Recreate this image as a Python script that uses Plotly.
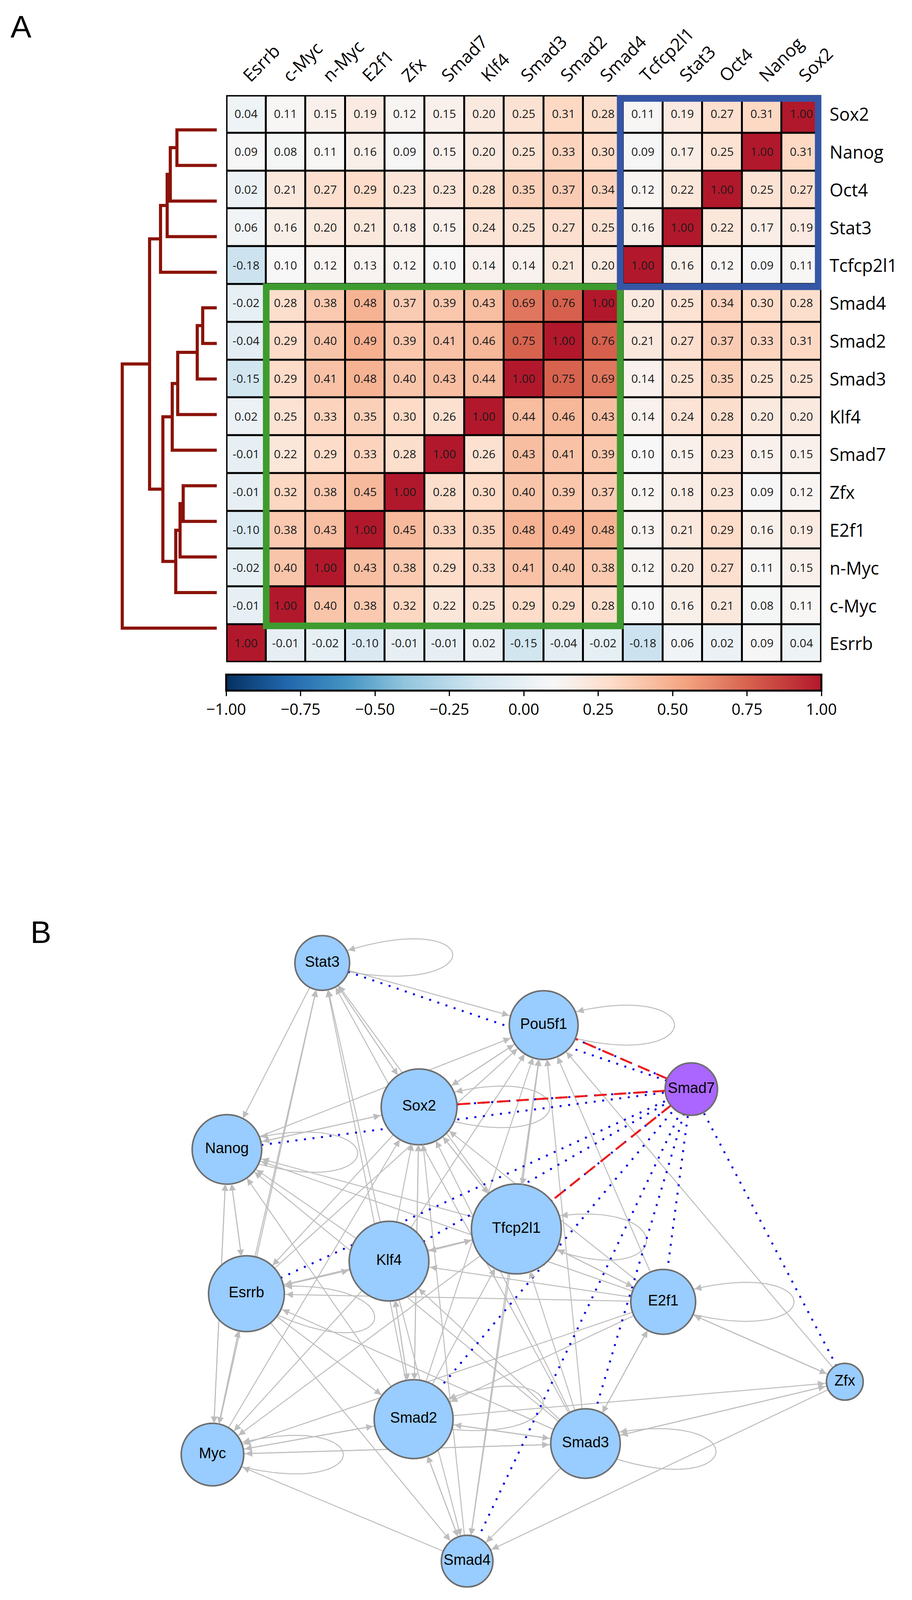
import math
import numpy as np
import plotly.graph_objects as go

W, H = 2335, 4325

# ---------------- Panel A data ----------------
row_labels = ["Sox2", "Nanog", "Oct4", "Stat3", "Tcfcp2l1", "Smad4", "Smad2", "Smad3",
              "Klf4", "Smad7", "Zfx", "E2f1", "n-Myc", "c-Myc", "Esrrb"]
col_labels = ["Esrrb", "c-Myc", "n-Myc", "E2f1", "Zfx", "Smad7", "Klf4", "Smad3",
              "Smad2", "Smad4", "Tcfcp2l1", "Stat3", "Oct4", "Nanog", "Sox2"]
corr = [
    [0.04, 0.11, 0.15, 0.19, 0.12, 0.15, 0.20, 0.25, 0.31, 0.28, 0.11, 0.19, 0.27, 0.31, 1.00],
    [0.09, 0.08, 0.11, 0.16, 0.09, 0.15, 0.20, 0.25, 0.33, 0.30, 0.09, 0.17, 0.25, 1.00, 0.31],
    [0.02, 0.21, 0.27, 0.29, 0.23, 0.23, 0.28, 0.35, 0.37, 0.34, 0.12, 0.22, 1.00, 0.25, 0.27],
    [0.06, 0.16, 0.20, 0.21, 0.18, 0.15, 0.24, 0.25, 0.27, 0.25, 0.16, 1.00, 0.22, 0.17, 0.19],
    [-0.18, 0.10, 0.12, 0.13, 0.12, 0.10, 0.14, 0.14, 0.21, 0.20, 1.00, 0.16, 0.12, 0.09, 0.11],
    [-0.02, 0.28, 0.38, 0.48, 0.37, 0.39, 0.43, 0.69, 0.76, 1.00, 0.20, 0.25, 0.34, 0.30, 0.28],
    [-0.04, 0.29, 0.40, 0.49, 0.39, 0.41, 0.46, 0.75, 1.00, 0.76, 0.21, 0.27, 0.37, 0.33, 0.31],
    [-0.15, 0.29, 0.41, 0.48, 0.40, 0.43, 0.44, 1.00, 0.75, 0.69, 0.14, 0.25, 0.35, 0.25, 0.25],
    [0.02, 0.25, 0.33, 0.35, 0.30, 0.26, 1.00, 0.44, 0.46, 0.43, 0.14, 0.24, 0.28, 0.20, 0.20],
    [-0.01, 0.22, 0.29, 0.33, 0.28, 1.00, 0.26, 0.43, 0.41, 0.39, 0.10, 0.15, 0.23, 0.15, 0.15],
    [-0.01, 0.32, 0.38, 0.45, 1.00, 0.28, 0.30, 0.40, 0.39, 0.37, 0.12, 0.18, 0.23, 0.09, 0.12],
    [-0.10, 0.38, 0.43, 1.00, 0.45, 0.33, 0.35, 0.48, 0.49, 0.48, 0.13, 0.21, 0.29, 0.16, 0.19],
    [-0.02, 0.40, 1.00, 0.43, 0.38, 0.29, 0.33, 0.41, 0.40, 0.38, 0.12, 0.20, 0.27, 0.11, 0.15],
    [-0.01, 1.00, 0.40, 0.38, 0.32, 0.22, 0.25, 0.29, 0.29, 0.28, 0.10, 0.16, 0.21, 0.08, 0.11],
    [1.00, -0.01, -0.02, -0.10, -0.01, -0.01, 0.02, -0.15, -0.04, -0.02, -0.18, 0.06, 0.02, 0.09, 0.04],
]
# dendrogram merges: (child a, child b, distance); ids >= 15 are earlier merges
dendro_merges = [
    (0, 1, 102), (15, 2, 119), (16, 3, 127), (17, 4, 144),
    (5, 6, 36), (19, 7, 50), (20, 8, 100), (21, 9, 114),
    (10, 11, 86), (23, 12, 94), (24, 13, 105),
    (22, 25, 138), (18, 26, 172), (27, 14, 242),
]
cb_ticks = [-1.0, -0.75, -0.5, -0.25, 0.0, 0.25, 0.5, 0.75, 1.0]

# ---------------- Panel B data ----------------
node_names = ["Stat3", "Pou5f1", "Smad7", "Sox2", "Nanog", "Tfcp2l1", "Klf4", "Esrrb",
              "E2f1", "Zfx", "Smad2", "Smad3", "Myc", "Smad4"]
node_x = [825, 1392, 1770, 1073, 581, 1322, 996, 631, 1698, 2163, 1059, 1499, 544, 1196]
node_y = [2603, 2771, 2944, 2992, 3107, 3322, 3409, 3497, 3519, 3735, 3836, 3902, 3932, 4220]
node_r = [70, 88, 67, 97, 89, 115, 102, 97, 83, 47, 101, 89, 80, 66]

grey_edges = [
    ("Stat3", "Nanog"), ("Stat3", "Pou5f1"), ("Stat3", "Sox2"), ("Sox2", "Stat3"), ("Klf4", "Stat3"),
    ("Smad2", "Stat3"), ("Myc", "Stat3"), ("Tfcp2l1", "Stat3"), ("Smad3", "Stat3"), ("Esrrb", "Stat3"),
    ("Sox2", "Nanog"), ("Nanog", "Sox2"), ("Sox2", "Pou5f1"), ("Pou5f1", "Sox2"), ("Sox2", "Tfcp2l1"),
    ("Tfcp2l1", "Sox2"), ("Sox2", "Esrrb"), ("Klf4", "Sox2"), ("Smad2", "Sox2"), ("Smad3", "Sox2"),
    ("E2f1", "Sox2"), ("Smad4", "Sox2"), ("Myc", "Sox2"), ("Sox2", "Smad2"),
    ("Nanog", "Pou5f1"), ("Klf4", "Pou5f1"), ("Tfcp2l1", "Pou5f1"), ("Pou5f1", "Tfcp2l1"),
    ("Smad2", "Pou5f1"), ("Smad3", "Pou5f1"), ("E2f1", "Pou5f1"), ("Esrrb", "Pou5f1"),
    ("Zfx", "Pou5f1"), ("Smad4", "Pou5f1"),
    ("Nanog", "Esrrb"), ("Esrrb", "Nanog"), ("Nanog", "Myc"), ("Klf4", "Nanog"), ("Smad2", "Nanog"),
    ("Tfcp2l1", "Nanog"), ("E2f1", "Nanog"), ("Smad3", "Nanog"), ("Myc", "Nanog"),
    ("Klf4", "Tfcp2l1"), ("Tfcp2l1", "Klf4"), ("Tfcp2l1", "Esrrb"), ("E2f1", "Tfcp2l1"),
    ("Tfcp2l1", "E2f1"), ("Smad3", "Tfcp2l1"), ("Smad2", "Tfcp2l1"), ("Tfcp2l1", "Smad4"),
    ("Tfcp2l1", "Myc"),
    ("Klf4", "Esrrb"), ("Esrrb", "Klf4"), ("Klf4", "Smad2"), ("Smad2", "Klf4"), ("E2f1", "Klf4"),
    ("Klf4", "Myc"), ("Smad3", "Klf4"), ("Klf4", "Smad4"),
    ("Esrrb", "Myc"), ("Myc", "Esrrb"), ("E2f1", "Esrrb"), ("Esrrb", "Smad2"), ("Smad3", "Esrrb"),
    ("Esrrb", "Smad4"),
    ("E2f1", "Zfx"), ("Zfx", "E2f1"), ("E2f1", "Smad2"), ("Smad3", "E2f1"), ("E2f1", "Smad3"),
    ("E2f1", "Myc"),
    ("Smad2", "Smad3"), ("Smad3", "Smad2"), ("Smad2", "Myc"), ("Myc", "Smad2"), ("Smad2", "Smad4"),
    ("Smad4", "Smad2"), ("Smad2", "Zfx"),
    ("Smad3", "Zfx"), ("Zfx", "Smad3"), ("Smad3", "Myc"), ("Myc", "Smad3"), ("Smad3", "Smad4"),
    ("Smad4", "Myc"), ("Zfx", "Smad4"),
]
loop_nodes = ["Stat3", "Pou5f1", "Sox2", "Nanog", "Tfcp2l1", "Esrrb", "E2f1", "Smad2", "Smad3", "Myc"]
loop_angles = [-4, 0, 0, 2, 6, 12, 0, -8, 4, 0]
blue_sources = ["Stat3", "Pou5f1", "Sox2", "Nanog", "Esrrb", "Klf4", "Tfcp2l1",
                "Smad2", "Smad3", "Smad4", "E2f1", "Zfx"]
red_targets = ["Pou5f1", "Sox2", "Tfcp2l1"]

# ---------------- styling ----------------
FONT_A = "Open Sans"
FONT_B = "Liberation Sans"
DENDRO_COLOR = "#8B1309"
GREY = "#BDBDBD"
BLUE = "#0000DD"
RED = "#EE1C1C"

colorscale = [
    [0.0, "rgb(5,48,97)"], [0.1, "rgb(33,102,172)"], [0.2, "rgb(67,147,195)"],
    [0.3, "rgb(146,197,222)"], [0.42, "rgb(209,229,240)"], [0.55, "rgb(247,247,247)"],
    [0.65, "rgb(253,219,199)"], [0.77, "rgb(244,165,130)"], [0.88, "rgb(214,96,77)"],
    [1.0, "rgb(178,24,43)"],
]

fig = go.Figure()

# ---------------- heatmap ----------------
n = len(row_labels)
hx0, hx1, hy0, hy1 = 579, 2103, 257, 1790
cw = (hx1 - hx0) / n
rh = (hy1 - hy0) / n
cell_text = [[f"{v:.2f}" for v in row] for row in corr]
fig.add_trace(go.Heatmap(
    z=corr, x=list(range(n)), y=list(range(n)), zmin=-1, zmax=1,
    colorscale=colorscale, xgap=5, ygap=5,
    text=cell_text, texttemplate="%{text}",
    textfont=dict(size=30, family=FONT_A, color="#1a1a1a"),
    hoverinfo="skip", xaxis="x", yaxis="y",
    colorbar=dict(
        orientation="h", x=(hx0 + hx1) / 2 / W, xanchor="center",
        len=(hx1 - hx0) / W, lenmode="fraction",
        y=1 - 1824 / H, yanchor="top", thickness=41, thicknessmode="pixels",
        outlinewidth=5, outlinecolor="black", xpad=0, ypad=0,
        tickvals=cb_ticks, tickformat=".2f", ticks="outside", ticklen=12,
        tickwidth=3, tickcolor="black",
        tickfont=dict(size=40, family=FONT_A, color="black"),
    ),
))

# ---------------- dendrogram ----------------
ypos = {i: float(i) for i in range(n)}
dpos = {i: 0.0 for i in range(n)}
dxs, dys = [], []
for k, (a, b, d) in enumerate(dendro_merges):
    cid = n + k
    dxs += [dpos[a], d, d, dpos[b], None]
    dys += [ypos[a], ypos[a], ypos[b], ypos[b], None]
    ypos[cid] = (ypos[a] + ypos[b]) / 2
    dpos[cid] = d
fig.add_trace(go.Scatter(x=dxs, y=dys, mode="lines", line=dict(color=DENDRO_COLOR, width=8),
                         hoverinfo="skip", xaxis="x2", yaxis="y2"))

# ---------------- network ----------------
pos = {nm: (x, y) for nm, x, y in zip(node_names, node_x, node_y)}
rad = dict(zip(node_names, node_r))
heads = []


def head_ann(hx, hy, ux, uy, color, aw, asz):
    sc = aw * asz
    hx -= ux * 1.3 * sc
    hy -= uy * 1.3 * sc
    return dict(x=hx, y=hy, ax=hx - ux * 8, ay=hy - uy * 8, xref="x3", yref="y3",
                axref="x3", ayref="y3", showarrow=True, arrowhead=2, arrowsize=asz,
                arrowwidth=aw, arrowcolor=color, text="", standoff=0)


def seg(a, b):
    (x1, y1), (x2, y2) = pos[a], pos[b]
    dx, dy = x2 - x1, y2 - y1
    L = math.hypot(dx, dy)
    ux, uy = dx / L, dy / L
    return (x1 + ux * rad[a], y1 + uy * rad[a], x2 - ux * rad[b], y2 - uy * rad[b], ux, uy)


gx, gy = [], []
for a, b in grey_edges:
    sx, sy, ex, ey, ux, uy = seg(a, b)
    gx += [sx, ex, None]
    gy += [sy, ey, None]
    heads.append(head_ann(ex, ey, ux, uy, GREY, 2.5, 1.4))

# self loops
lx, ly = [], []
for nm, angd in zip(loop_nodes, loop_angles):
    cx, cy = pos[nm]
    r = rad[nm]
    ang = math.radians(angd)
    ca, sa = math.cos(ang), math.sin(ang)
    a0 = math.radians(24)
    reach = (335 - 0.25 * r * math.cos(a0)) / 0.75
    spread = 120
    P = [(r * math.cos(a0), r * math.sin(a0)), (reach, spread), (reach, -spread),
         (r * math.cos(a0), -r * math.sin(a0))]
    pts = []
    for t in np.linspace(0, 1, 60):
        bx = (1 - t) ** 3 * P[0][0] + 3 * (1 - t) ** 2 * t * P[1][0] + 3 * (1 - t) * t ** 2 * P[2][0] + t ** 3 * P[3][0]
        by = (1 - t) ** 3 * P[0][1] + 3 * (1 - t) ** 2 * t * P[1][1] + 3 * (1 - t) * t ** 2 * P[2][1] + t ** 3 * P[3][1]
        pts.append((cx + bx * ca - by * sa, cy + bx * sa + by * ca))
    lx += [p[0] for p in pts] + [None]
    ly += [p[1] for p in pts] + [None]
    (px1, py1), (px2, py2) = pts[-3], pts[-1]
    L = math.hypot(px2 - px1, py2 - py1)
    heads.append(head_ann(px2, py2, (px2 - px1) / L, (py2 - py1) / L, GREY, 2.5, 1.4))

fig.add_trace(go.Scatter(x=gx, y=gy, mode="lines", line=dict(color=GREY, width=2.5),
                         hoverinfo="skip", xaxis="x3", yaxis="y3"))
fig.add_trace(go.Scatter(x=lx, y=ly, mode="lines", line=dict(color=GREY, width=2.5),
                         hoverinfo="skip", xaxis="x3", yaxis="y3"))

# blue dotted: sources -> Smad7
bx_, by_ = [], []
for s in blue_sources:
    sx, sy, ex, ey, ux, uy = seg(s, "Smad7")
    bx_ += [sx, ex, None]
    by_ += [sy, ey, None]
    heads.append(head_ann(ex, ey, ux, uy, BLUE, 3, 1.8))
fig.add_trace(go.Scatter(x=bx_, y=by_, mode="lines", line=dict(color=BLUE, width=5, dash="5px,17px"),
                         hoverinfo="skip", xaxis="x3", yaxis="y3"))

# red dashed: Smad7 -> targets
rx, ry = [], []
for t in red_targets:
    sx, sy, ex, ey, ux, uy = seg("Smad7", t)
    rx += [sx, ex, None]
    ry += [sy, ey, None]
    heads.append(head_ann(ex, ey, ux, uy, RED, 3, 1.8))
fig.add_trace(go.Scatter(x=rx, y=ry, mode="lines", line=dict(color=RED, width=5, dash="32px,18px"),
                         hoverinfo="skip", xaxis="x3", yaxis="y3"))

node_fill = ["#AA66FF" if nm == "Smad7" else "#99CCFF" for nm in node_names]
fig.add_trace(go.Scatter(
    x=node_x, y=node_y, mode="markers+text", text=node_names, textposition="middle center",
    marker=dict(size=[2 * r for r in node_r], color=node_fill, line=dict(color="#6e6e6e", width=4),
                opacity=1),
    textfont=dict(size=38, family=FONT_B, color="black"),
    cliponaxis=False, hoverinfo="skip", xaxis="x3", yaxis="y3"))

# ---------------- annotations ----------------
anns = []
for j, lab in enumerate(col_labels):
    cx_px = hx0 + (j + 0.5) * cw
    anns.append(dict(x=(cx_px - 25) / W, y=1 - (hy0 - 20) / H, xref="paper", yref="paper",
                     text=lab, showarrow=False, textangle=-45, xanchor="left", yanchor="bottom",
                     font=dict(size=45, family=FONT_A, color="black")))
for i, lab in enumerate(row_labels):
    cy_px = hy0 + (i + 0.5) * rh
    anns.append(dict(x=(hx1 + 19) / W, y=1 - cy_px / H, xref="paper", yref="paper",
                     text=lab, showarrow=False, xanchor="left", yanchor="middle",
                     font=dict(size=45, family=FONT_A, color="black")))
anns.append(dict(x=54 / W, y=1 - 72 / H, xref="paper", yref="paper", text="A", showarrow=False,
                 xanchor="center", yanchor="middle", font=dict(size=80, family=FONT_B, color="black")))
anns.append(dict(x=104 / W, y=1 - 2520 / H, xref="paper", yref="paper", text="B", showarrow=False,
                 xanchor="center", yanchor="middle", font=dict(size=80, family=FONT_B, color="black")))
anns += heads

# ---------------- shapes ----------------
shapes = [
    dict(type="rect", xref="x", yref="y", x0=-0.5, x1=14.5, y0=-0.5, y1=14.5,
         fillcolor="black", line=dict(width=0), layer="below"),
    dict(type="rect", xref="x", yref="y", x0=-0.5, x1=14.5, y0=-0.5, y1=14.5,
         line=dict(color="black", width=7), layer="above"),
    dict(type="rect", xref="x", yref="y", x0=0.51, x1=9.43, y0=4.57, y1=13.54,
         line=dict(color="#3E9B2F", width=17), layer="above"),
    dict(type="rect", xref="x", yref="y", x0=9.43, x1=14.42, y0=-0.41, y1=4.57,
         line=dict(color="#3556A5", width=17), layer="above"),
]

pad = 0.1
leaf_top, leaf_bot = 351, 1698
leaf_step = (leaf_bot - leaf_top) / (n - 1)
fig.update_layout(
    width=W, height=H, autosize=False,
    margin=dict(l=0, r=0, t=0, b=0),
    paper_bgcolor="white", plot_bgcolor="rgba(0,0,0,0)",
    showlegend=False, hovermode=False,
    xaxis=dict(domain=[hx0 / W, hx1 / W], range=[-0.5, 14.5], visible=False, anchor="y"),
    yaxis=dict(domain=[1 - hy1 / H, 1 - hy0 / H], range=[14.5, -0.5], visible=False, anchor="x"),
    xaxis2=dict(domain=[0, 565 / W], range=[555, -10], visible=False, anchor="y2"),
    yaxis2=dict(domain=[1 - (leaf_bot + pad * leaf_step) / H, 1 - (leaf_top - pad * leaf_step) / H],
                range=[n - 1 + pad, -pad], visible=False, anchor="x2"),
    xaxis3=dict(domain=[0, 1], range=[0, W], visible=False, anchor="y3"),
    yaxis3=dict(domain=[0, 1 - 2380 / H], range=[H, 2380], visible=False, anchor="x3"),
    annotations=anns, shapes=shapes,
)

# fit the figure to the visible window if the browser viewport is shorter than the figure
fit_js = (
    "document.body.style.margin='0px';document.body.style.overflow='hidden';"
    "var gd=document.getElementById('{plot_id}');var vh=window.innerHeight;"
    "if(vh && vh < %d){Plotly.relayout(gd,{height:vh});}" % H
)
fig.write_html("out.html", post_script=fit_js, config={"displayModeBar": False})
